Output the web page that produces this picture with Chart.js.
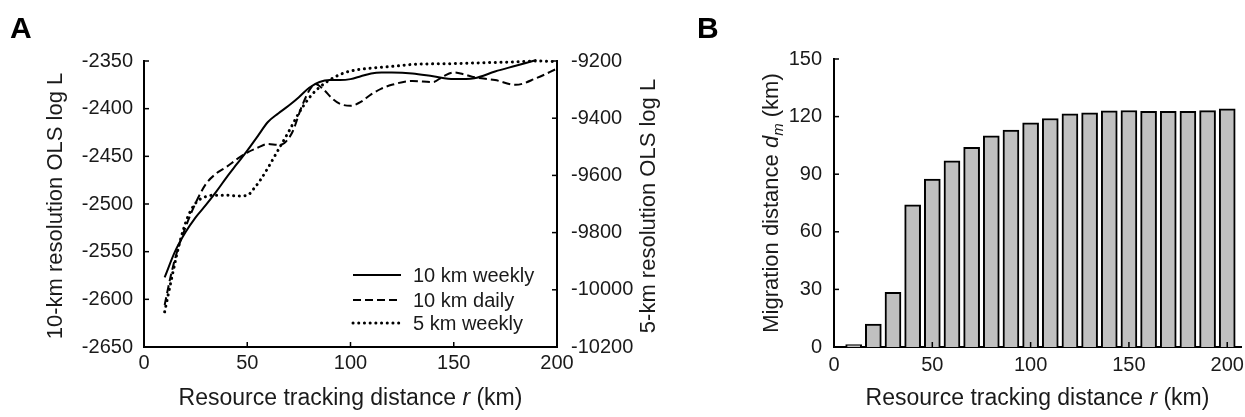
<!DOCTYPE html>
<html>
<head>
<meta charset="utf-8">
<script src="https://cdn.jsdelivr.net/npm/chart.js@4.4.1/dist/chart.umd.min.js"></script>
<style>
  html, body { margin: 0; padding: 0; background: #ffffff; }
  #wrap { position: relative; width: 1245px; height: 417px; overflow: hidden; }
  #cA { position: absolute; left: 0; top: 0; }
  #cB { position: absolute; left: 680px; top: 0; }
</style>
</head>
<body>
<div id="wrap">
  <canvas id="cA" width="680" height="417"></canvas>
  <canvas id="cB" width="565" height="417"></canvas>
</div>
<script>
// ---------- DATA ----------
// Panel A: 10 km weekly (left axis)
const rWeekly10 = [10,15,20,25,30,35,40,45,50,55,60,65,70,75,80,85,90,95,100,105,110,115,120,130,140,150,160,170,180,190];
const logLWeekly10 = [-2577,-2550,-2530,-2514,-2501,-2487,-2472,-2458,-2444,-2429,-2414,-2405,-2397,-2388,-2378,-2372,-2370,-2370,-2369,-2366,-2363,-2362,-2362,-2363,-2366,-2369,-2368,-2361,-2355,-2349];
// Panel A: 10 km daily (left axis)
const rDaily10 = [10,13,16,20,25,30,35,40,45,50,55,60,65,68,72,76,80,83,87,91,95,100,105,110,115,120,130,140,145,150,155,160,170,180,190,200];
const logLDaily10 = [-2606,-2575,-2550,-2525,-2499,-2479,-2468,-2461,-2453,-2446,-2441,-2437,-2438,-2436,-2424,-2400,-2381,-2374,-2380,-2389,-2395,-2397,-2393,-2385,-2379,-2375,-2371,-2372,-2366,-2362,-2364,-2367,-2370,-2375,-2368,-2358];
// Panel A: 5 km weekly (right axis)
const rWeekly5 = [10,13,17,21,25,30,35,40,45,50,53,56,60,65,70,75,80,84,90,95,100,110,120,130,140,150,160,170,180,190,200];
const logLWeekly5 = [-10077,-9973,-9843,-9749,-9697,-9674,-9669,-9669,-9672,-9670,-9648,-9620,-9574,-9511,-9448,-9382,-9329,-9298,-9266,-9247,-9235,-9225,-9219,-9212,-9210,-9209,-9207,-9205,-9203,-9200,-9202];
const seriesNamesA = ['10 km weekly', '10 km daily', '5 km weekly'];

// Panel B: migration distance per resource tracking distance
const rBars = [10,20,30,40,50,60,70,80,90,100,110,120,130,140,150,160,170,180,190,200];
const migrationDist = [1.2,12,28.5,74,87.5,97,104,110,113,116.7,119,121.5,122,123,123.2,122.7,122.7,122.7,123.1,124];

// Axis ranges / tick steps
const xRangeA = [0, 200], xStepA = 50;
const yLeftRange = [-2650, -2350], yLeftStep = 50;
const yRightRange = [-10200, -9200], yRightStep = 200;
const xRangeB = [0, 207], xStepB = 50;
const yRangeB = [0, 150], yStepB = 30;

// Text
const FONT = '"Liberation Sans", Arial, Helvetica, sans-serif';
const TXT = '#1a1a1a';
const titleAx = [{t:'Resource tracking distance '},{t:'r',it:true},{t:' (km)'}];
const titleAyL = [{t:'10-km resolution OLS log L'}];
const titleAyR = [{t:'5-km resolution OLS log L'}];
const titleBx = [{t:'Resource tracking distance '},{t:'r',it:true},{t:' (km)'}];
const titleBy = [{t:'Migration distance '},{t:'d',it:true},{t:'m',it:true,sub:true},{t:' (km)'}];

// ---------- helpers ----------
Chart.defaults.font.family = FONT;
Chart.defaults.color = TXT;

function drawRich(ctx, segs, cx, baseline, rotated, size) {
  ctx.save();
  if (rotated) { ctx.translate(baseline, cx); ctx.rotate(-Math.PI / 2); }
  else { ctx.translate(cx, baseline); }
  let total = 0;
  const info = segs.map(s => {
    const fs = s.sub ? size * 0.68 : size;
    const f = (s.it ? 'italic ' : '') + fs + 'px ' + FONT;
    ctx.font = f;
    const w = ctx.measureText(s.t).width;
    total += w;
    return { f, w, dy: s.sub ? size * 0.22 : 0 };
  });
  let x = -total / 2;
  ctx.textBaseline = 'alphabetic';
  ctx.textAlign = 'left';
  ctx.fillStyle = TXT;
  segs.forEach((s, i) => {
    ctx.font = info[i].f;
    ctx.fillText(s.t, x, info[i].dy);
    x += info[i].w;
  });
  ctx.restore();
}

const innerTicks = {
  id: 'innerTicks',
  afterDraw(chart) {
    const ctx = chart.ctx, ca = chart.chartArea, len = 5;
    ctx.save();
    ctx.strokeStyle = '#000';
    ctx.lineWidth = 1.5;
    Object.values(chart.scales).forEach(s => {
      s.ticks.forEach(t => {
        const p = s.getPixelForValue(t.value);
        ctx.beginPath();
        if (s.isHorizontal()) {
          if (p <= ca.left + 2 || p >= ca.right - 2) return;
          ctx.moveTo(p, ca.bottom); ctx.lineTo(p, ca.bottom - len);
        } else if (s.position === 'left') {
          if (p >= ca.bottom - 2) return;
          ctx.moveTo(ca.left, p); ctx.lineTo(ca.left + len, p);
        } else {
          if (p >= ca.bottom - 2) return;
          ctx.moveTo(ca.right, p); ctx.lineTo(ca.right - len, p);
        }
        ctx.stroke();
      });
    });
    ctx.restore();
  }
};

function fixWidth(w) { return s => { s.width = w; }; }
function fixHeight(h) { return s => { s.height = h; s.paddingLeft = 0; s.paddingRight = 0; }; }
const plainNum = v => String(v);

const tickFont = { size: 20, family: FONT };

// ---------- Panel A ----------
const legendA = {
  id: 'legendA',
  afterDraw(chart) {
    const ctx = chart.ctx, ca = chart.chartArea;
    const rows = [-72, -47, -24];
    chart.data.datasets.forEach((ds, i) => {
      const y = ca.bottom + rows[i];
      ctx.save();
      ctx.strokeStyle = ds.borderColor;
      ctx.lineWidth = ds.borderWidth;
      ctx.lineCap = ds.borderCapStyle || 'butt';
      ctx.setLineDash(ds.borderDash || []);
      ctx.beginPath();
      ctx.moveTo(ca.right - 204, y);
      ctx.lineTo(ca.right - 156, y);
      ctx.stroke();
      ctx.setLineDash([]);
      ctx.fillStyle = TXT;
      ctx.font = '20px ' + FONT;
      ctx.textBaseline = 'middle';
      ctx.textAlign = 'left';
      ctx.fillText(ds.label, ca.right - 144, y + 1);
      ctx.restore();
    });
  }
};
const titlesA = {
  id: 'titlesA',
  afterDraw(chart) {
    const ctx = chart.ctx, ca = chart.chartArea;
    drawRich(ctx, titleAx, (ca.left + ca.right) / 2, 405, false, 23);
    drawRich(ctx, titleAyL, (ca.top + ca.bottom) / 2 + 2, 62, true, 22);
    drawRich(ctx, titleAyR, (ca.top + ca.bottom) / 2 + 2, 655, true, 22);
    ctx.save();
    ctx.fillStyle = '#000';
    ctx.font = 'bold 30px ' + FONT;
    ctx.textBaseline = 'alphabetic';
    ctx.fillText('A', 10, 38);
    ctx.restore();
  }
};

const toXY = (xs, ys) => xs.map((x, i) => ({ x: x, y: ys[i] }));

new Chart(document.getElementById('cA'), {
  type: 'line',
  data: {
    datasets: [
      { label: seriesNamesA[0], data: toXY(rWeekly10, logLWeekly10), yAxisID: 'y',
        borderColor: '#000', borderWidth: 2, pointRadius: 0, cubicInterpolationMode: 'monotone', fill: false, clip: false },
      { label: seriesNamesA[1], data: toXY(rDaily10, logLDaily10), yAxisID: 'y',
        borderColor: '#000', borderWidth: 2, borderDash: [8, 4], pointRadius: 0, cubicInterpolationMode: 'monotone', fill: false, clip: false },
      { label: seriesNamesA[2], data: toXY(rWeekly5, logLWeekly5), yAxisID: 'y2',
        borderColor: '#000', borderWidth: 3, borderDash: [0.1, 5.6], borderCapStyle: 'round', pointRadius: 0, cubicInterpolationMode: 'monotone', fill: false, clip: false }
    ]
  },
  options: {
    responsive: false, animation: false, devicePixelRatio: 1,
    layout: { padding: { left: 20, right: 20, top: 61, bottom: 10 }, autoPadding: false },
    plugins: { legend: { display: false }, tooltip: { enabled: false } },
    scales: {
      x: { type: 'linear', min: xRangeA[0], max: xRangeA[1],
           ticks: { stepSize: xStepA, font: tickFont, color: TXT, padding: 4, maxRotation: 0, includeBounds: false, callback: plainNum },
           grid: { display: false, drawTicks: false }, border: { display: true, color: '#000', width: 2 },
           afterFit: fixHeight(60) },
      y: { position: 'left', min: yLeftRange[0], max: yLeftRange[1],
           ticks: { stepSize: yLeftStep, font: tickFont, color: TXT, padding: 11, callback: plainNum },
           grid: { display: false, drawTicks: false }, border: { display: true, color: '#000', width: 2 },
           afterFit: fixWidth(124) },
      y2: { position: 'right', min: yRightRange[0], max: yRightRange[1],
           ticks: { stepSize: yRightStep, font: tickFont, color: TXT, padding: 14, callback: plainNum },
           grid: { display: false, drawTicks: false }, border: { display: true, color: '#000', width: 2 },
           afterFit: fixWidth(103) }
    }
  },
  plugins: [innerTicks, legendA, titlesA]
});

// ---------- Panel B ----------
const titlesB = {
  id: 'titlesB',
  afterDraw(chart) {
    const ctx = chart.ctx, ca = chart.chartArea;
    drawRich(ctx, titleBx, (ca.left + ca.right) / 2, 405, false, 23);
    drawRich(ctx, titleBy, (ca.top + ca.bottom) / 2, 98, true, 22);
    ctx.save();
    ctx.fillStyle = '#000';
    ctx.font = 'bold 30px ' + FONT;
    ctx.textBaseline = 'alphabetic';
    ctx.fillText('B', 17, 38);
    ctx.restore();
  }
};

new Chart(document.getElementById('cB'), {
  type: 'bar',
  data: {
    datasets: [{
      label: 'Migration distance',
      data: toXY(rBars, migrationDist),
      backgroundColor: '#c0c0c0', borderColor: '#000', borderWidth: 2,
      barThickness: 16, borderSkipped: 'start'
    }]
  },
  options: {
    responsive: false, animation: false, devicePixelRatio: 1,
    layout: { padding: { left: 20, right: 4, top: 59, bottom: 10 }, autoPadding: false },
    plugins: { legend: { display: false }, tooltip: { enabled: false } },
    scales: {
      x: { type: 'linear', min: xRangeB[0], max: xRangeB[1], offset: false,
           ticks: { stepSize: xStepB, font: tickFont, color: TXT, padding: 6, maxRotation: 0, includeBounds: false, callback: plainNum },
           grid: { display: false, drawTicks: false, offset: false }, border: { display: true, color: '#000', width: 2 },
           afterFit: fixHeight(60) },
      y: { position: 'left', min: yRangeB[0], max: yRangeB[1],
           ticks: { stepSize: yStepB, font: tickFont, color: TXT, padding: 12, callback: plainNum },
           grid: { display: false, drawTicks: false }, border: { display: true, color: '#000', width: 2 },
           afterFit: fixWidth(134) }
    }
  },
  plugins: [innerTicks, titlesB]
});
</script>
</body>
</html>
